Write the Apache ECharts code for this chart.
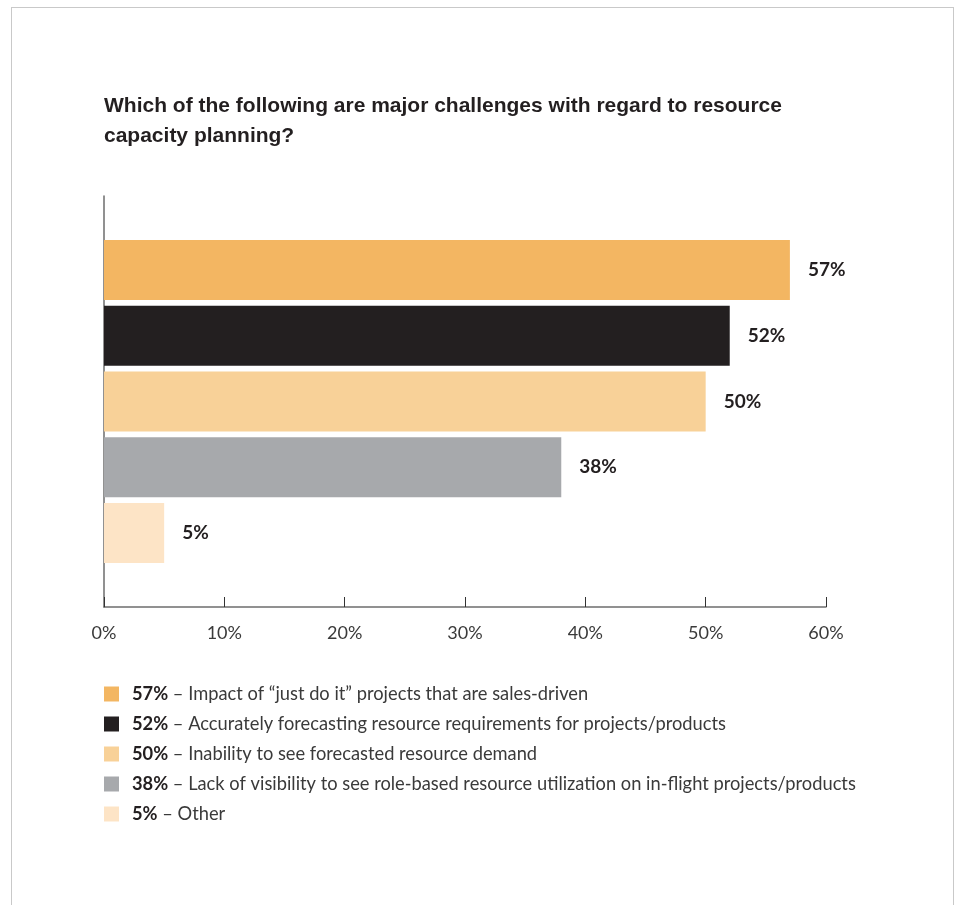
<!DOCTYPE html>
<html>
<head>
<meta charset="utf-8">
<script src="https://cdn.jsdelivr.net/npm/echarts@6/dist/echarts.min.js"></script>
<style>
  html, body { margin: 0; padding: 0; background: #fff; }
  #frame { position: absolute; left: 11px; top: 7px; width: 943px; height: 910px;
           border: 1.5px solid #c9c9c9; border-bottom: none; box-sizing: border-box; }
  #chart { position: absolute; left: 0; top: 0; width: 959px; height: 905px; }
</style>
</head>
<body>
<div id="frame"></div>
<div id="chart"></div>
<script>
const titleText = "Which of the following are major challenges with regard to resource\ncapacity planning?";
const categories = [
  "Impact of \u201cjust do it\u201d projects that are sales-driven",
  "Accurately forecasting resource requirements for projects/products",
  "Inability to see forecasted resource demand",
  "Lack of visibility to see role-based resource utilization on in-flight projects/products",
  "Other"
];
const values = [57, 52, 50, 38, 5];
const colors = ["#F3B662", "#231F20", "#F8D198", "#A7A9AC", "#FDE4C6"];
const tickValues = [0, 10, 20, 30, 40, 50, 60];

const chart = echarts.init(document.getElementById('chart'), null, { renderer: 'canvas' });

const bodyFont = "Lato, 'Noto Sans', sans-serif";

const series = categories.map((name, i) => ({
  name: name,
  type: 'bar',
  xAxisIndex: 0,
  yAxisIndex: 0,
  barWidth: 60,
  barGap: '-100%',
  itemStyle: { color: colors[i] },
  data: values.map((v, j) => (j === i ? v : '-')),
  label: {
    show: true,
    position: 'right',
    distance: 18,
    formatter: p => p.value + '%',
    fontFamily: bodyFont,
    fontWeight: 'bold',
    fontSize: 19,
    color: '#231F20',
    padding: [3, 0, 0, 0]
  },
  emphasis: { disabled: true },
  silent: true
}));

chart.setOption({
  animation: false,
  backgroundColor: 'transparent',
  title: {
    text: titleText,
    left: 104,
    top: 91,
    padding: 0,
    textStyle: {
      fontFamily: "'Liberation Sans', Arial, sans-serif",
      fontWeight: 'bold',
      fontSize: 21,
      lineHeight: 30,
      color: '#231F20'
    }
  },
  legend: {
    orient: 'vertical',
    left: 104,
    top: 684,
    padding: 0,
    itemWidth: 15,
    itemHeight: 15,
    itemGap: 10,
    icon: 'rect',
    selectedMode: false,
    data: categories,
    formatter: name => {
      const i = categories.indexOf(name);
      return '{b|' + values[i] + '%} {n|\u2013 ' + name + '}';
    },
    textStyle: {
      fontFamily: bodyFont,
      fontSize: 18.3,
      lineHeight: 20,
      color: '#3a3a3a',
      rich: {
        b: { fontFamily: bodyFont, fontSize: 18.3, fontWeight: 'bold', color: '#231F20', lineHeight: 20, padding: [0, 0, 0, 8] },
        n: { fontFamily: bodyFont, fontSize: 18.3, color: '#3a3a3a', lineHeight: 20 }
      }
    }
  },
  grid: [
    { left: 104, top: 237, width: 722, height: 329, containLabel: false },
    { left: 104, top: 196, width: 722, height: 411, containLabel: false }
  ],
  xAxis: [
    { gridIndex: 0, type: 'value', min: 0, max: 60, interval: 10, show: false },
    {
      gridIndex: 1, type: 'value', min: 0, max: 60, interval: 10,
      axisLine: { show: true, lineStyle: { color: '#6d6d6d', width: 1.5 } },
      axisTick: { show: true, inside: true, length: 10, lineStyle: { color: '#333', width: 1 } },
      splitLine: { show: false },
      axisLabel: {
        formatter: v => (tickValues.indexOf(v) >= 0 ? v + '%' : ''),
        fontFamily: bodyFont,
        fontSize: 18,
        color: '#3a3a3a',
        margin: 17
      }
    }
  ],
  yAxis: [
    {
      gridIndex: 0, type: 'category', data: categories, inverse: true,
      show: false
    },
    {
      gridIndex: 1, type: 'value', min: 0, max: 1,
      axisLine: { show: true, lineStyle: { color: '#6d6d6d', width: 1.5 } },
      axisTick: { show: false },
      axisLabel: { show: false },
      splitLine: { show: false }
    }
  ],
  series: series
});
</script>
</body>
</html>
